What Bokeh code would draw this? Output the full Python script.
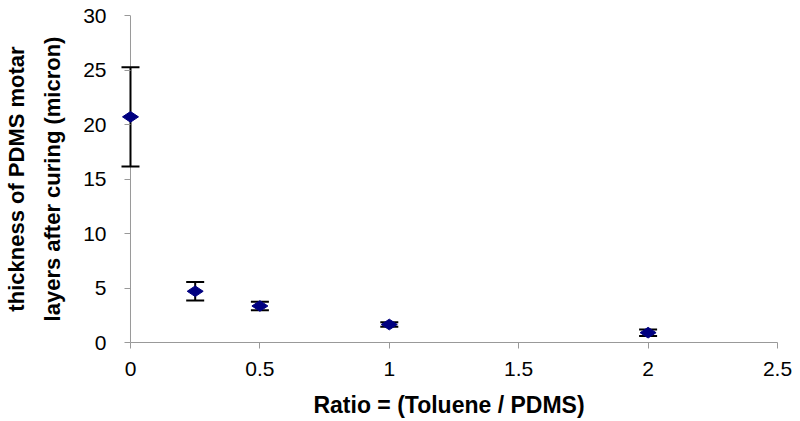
import math
from bokeh.plotting import figure
from bokeh.models import Whisker, ColumnDataSource, FixedTicker, Range1d, Span
from bokeh.embed import file_html
from bokeh.resources import INLINE

ratio = [0, 0.25, 0.5, 1, 2]
thickness = [20.7, 4.7, 3.35, 1.65, 0.9]
err = [4.55, 0.85, 0.4, 0.2, 0.3]
x_ticks = [0, 0.5, 1, 1.5, 2, 2.5]
y_ticks = [0, 5, 10, 15, 20, 25, 30]

upper = [t + e for t, e in zip(thickness, err)]
lower = [t - e for t, e in zip(thickness, err)]
src = ColumnDataSource(data=dict(x=ratio, y=thickness, upper=upper, lower=lower))

p = figure(width=795, height=420, output_backend="svg", toolbar_location=None,
           x_range=Range1d(-0.0386, 2.5), y_range=Range1d(0, 30),
           min_border_left=120, min_border_right=18, min_border_top=15, min_border_bottom=78)
p.outline_line_color = None
p.xgrid.visible = False
p.ygrid.visible = False

# y axis line at x = 0 (frame starts slightly left of it so markers are not clipped)
yline = Span(location=0, dimension="height", line_color="#999999", line_width=1,
             level="underlay")
p.add_layout(yline)

w = Whisker(source=src, base="x", upper="upper", lower="lower",
            line_color="black", line_width=2, level="underlay")
for h in (w.upper_head, w.lower_head):
    h.size = 18
    h.line_width = 2
    h.line_color = "black"
p.add_layout(w)

p.scatter("x", "y", source=src, marker="diamond", size=16, angle=math.pi / 2,
          fill_color="#000080", line_color="#000080")

p.xaxis.ticker = FixedTicker(ticks=x_ticks)
p.yaxis.ticker = FixedTicker(ticks=y_ticks)
p.xaxis.bounds = (0, 2.5)
for ax in (p.xaxis, p.yaxis):
    ax.axis_line_color = "#999999"
    ax.major_tick_line_color = "#999999"
    ax.minor_tick_line_color = None
    ax.major_label_text_font = "Liberation Sans"
    ax.major_label_text_font_size = "21px"
    ax.major_label_text_color = "black"
    ax.axis_label_text_font = "Liberation Sans"
    ax.axis_label_text_font_style = "bold"
    ax.axis_label_text_color = "black"
p.xaxis.major_tick_in = 0
p.xaxis.major_tick_out = 6
p.yaxis.axis_line_color = None
p.yaxis.major_tick_in = 10
p.yaxis.major_tick_out = -4
p.xaxis.major_label_standoff = 13
p.yaxis.major_label_standoff = 14
p.xaxis.axis_label = "Ratio = (Toluene / PDMS)"
p.xaxis.axis_label_text_font_size = "23px"
p.xaxis.axis_label_standoff = 13
p.yaxis.axis_label = "thickness of PDMS motar\nlayers after curing (micron)"
p.yaxis.axis_label_text_font_size = "22px"
p.yaxis.axis_label_text_line_height = 1.45
p.yaxis.axis_label_standoff = 15

open("out.html", "w").write(file_html(p, INLINE))
